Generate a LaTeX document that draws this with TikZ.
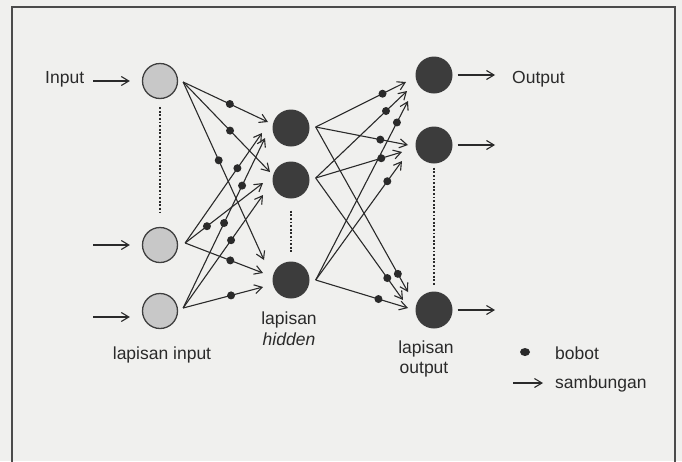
\documentclass[tikz,border=0pt]{standalone}
\usepackage{fontspec}
\setmainfont{Liberation Sans}
\usetikzlibrary{arrows.meta,calc,shapes.geometric}
\definecolor{paper}{RGB}{240,240,238}
\definecolor{ink}{RGB}{42,42,42}
\definecolor{inputfill}{RGB}{200,200,200}
\definecolor{unitfill}{RGB}{60,60,60}
\definecolor{framecol}{RGB}{75,75,75}
\tikzset{
  inunit/.style={circle, minimum size=35pt, inner sep=0pt, fill=inputfill, draw=ink!90, line width=1.3pt},
  darkunit/.style={circle, minimum size=37pt, inner sep=0pt, fill=unitfill},
  conn/.style={draw=ink, line width=1.1pt, -{Straight Barb[length=7.5pt,width=9pt]}},
  wdot/.style={circle, fill=ink, minimum size=8pt, inner sep=0pt},
  layerdots/.style={draw=ink, line width=1.9pt, dash pattern=on 1.8pt off 1.8pt},
  lbl/.style={text=ink, font=\fontsize{17.5}{20}\selectfont, inner sep=0pt},
}
\begin{document}
\begin{tikzpicture}[x=1pt,y=-1pt]
  \useasboundingbox (0,0) rectangle (682,461);
  \fill[paper] (0,0) rectangle (682,461);
  % outer frame, open at the bottom
  \draw[framecol, line width=1.6pt] (12,470) |- (675,7) -- (675,470);

  % units
  \node[inunit] (i1) at (160,81) {};
  \node[inunit] (i2) at (160,245) {};
  \node[inunit] (i3) at (160,311) {};
  \node[darkunit] (h1) at (291,128) {};
  \node[darkunit] (h2) at (291,180) {};
  \node[darkunit] (h3) at (291,280) {};
  \node[darkunit] (o1) at (434,75) {};
  \node[darkunit] (o2) at (434,145) {};
  \node[darkunit] (o3) at (434,310) {};

  % omitted units within each layer
  \draw[layerdots, shorten <=8pt, shorten >=14pt] (i1.south) -- (i2.north);
  \draw[layerdots, shorten <=12pt, shorten >=9pt] (h2.south) -- (h3.north);
  \draw[layerdots, shorten <=4pt, shorten >=6pt] (o2.south) -- (o3.north);

  % points where the connections leave each unit
  \coordinate (i1f) at ($(i1.east)+(5,1)$);
  \coordinate (i2f) at ($(i2.east)+(7,-2)$);
  \coordinate (i3f) at ($(i3.east)+(5,-3)$);
  \coordinate (h1f) at ($(h1.east)+(6,-1)$);
  \coordinate (h2f) at ($(h2.east)+(6,-2)$);
  \coordinate (h3f) at ($(h3.east)+(6,0)$);

  % input -> hidden connections with their weights
  \foreach \s/\t/\dx/\dy/\p/\n in {
      i1f/h1/-23/-6/.55/w11, i1f/h2/-21/-8/.54/w12, i1f/h3/-27/-20/.44/w13,
      i2f/h1/-29/5/.68/w21,  i2f/h2/-28/3/.28/w22,  i2f/h3/-28/-7/.58/w23,
      i3f/h2/-28/15/.6/w32,  i3f/h3/-28/7/.6/w33}
    \draw[conn] (\s) -- ($(\t)+(\dx,\dy)$) node[wdot, pos=\p] (\n) {};
  \draw[conn] (i3f) -- ($(h1)+(-26,10)$)
    node[wdot, pos=.5] (w31a) {} node[wdot, pos=.72] (w31b) {};

  % hidden -> output connections with their weights
  \foreach \s/\t/\dx/\dy/\p/\n in {
      h1f/o1/-28/7/.74/v11,  h1f/o2/-26/0/.7/v12,   h1f/o3/-26/-18/.89/v13,
      h2f/o1/-27/16/.77/v21, h2f/o2/-32/7/.76/v22,  h2f/o3/-31/-10/.82/v23,
      h3f/o1/-26/26/.88/v31, h3f/o2/-32/16/.83/v32, h3f/o3/-26/-2/.68/v33}
    \draw[conn] (\s) -- ($(\t)+(\dx,\dy)$) node[wdot, pos=\p] (\n) {};

  % signals entering the input layer
  \coordinate (in1) at (93,81);
  \coordinate (in2) at (93,245);
  \coordinate (in3) at (93,317);
  \draw[conn, shorten >=12pt] (in1) -- (in1 -| i1.west);
  \draw[conn, shorten >=12pt] (in2) -- (in2 -| i2.west);
  \draw[conn, shorten >=12pt] (in3) -- (in3 -| i3.west);

  % signals leaving the output layer
  \coordinate (out1) at (495,75);
  \coordinate (out2) at (495,145);
  \coordinate (out3) at (495,310);
  \draw[conn, shorten <=5pt] (o1.east) -- (out1);
  \draw[conn, shorten <=5pt] (o2.east) -- (out2);
  \draw[conn, shorten <=5pt] (o3.east) -- (out3);

  % labels
  \node[lbl, anchor=base west] (tin) at (45,83) {Input};
  \node[lbl, anchor=base west] (tout) at (512,83) {Output};
  \node[lbl, anchor=base] (lin) at (162,359) {lapisan input};
  \node[lbl, anchor=base] (lh1) at (289,324) {lapisan};
  \node[lbl, anchor=base] (lh2) at (289,345) {\itshape hidden};
  \node[lbl, anchor=base] (lo1) at (426,353) {lapisan};
  \node[lbl, anchor=base] (lo2) at (424,373) {output};

  % legend
  \node[ellipse, fill=ink, inner sep=0pt, minimum width=10pt, minimum height=8pt] (legdot) at (525,352) {};
  \node[lbl, anchor=base west] (lbob) at (555,359) {bobot};
  \coordinate (legA) at (513,383);
  \coordinate (legB) at (543,383);
  \draw[conn] (legA) -- (legB);
  \node[lbl, anchor=base west] (lsam) at (555,388) {sambungan};
\end{tikzpicture}
\end{document}
